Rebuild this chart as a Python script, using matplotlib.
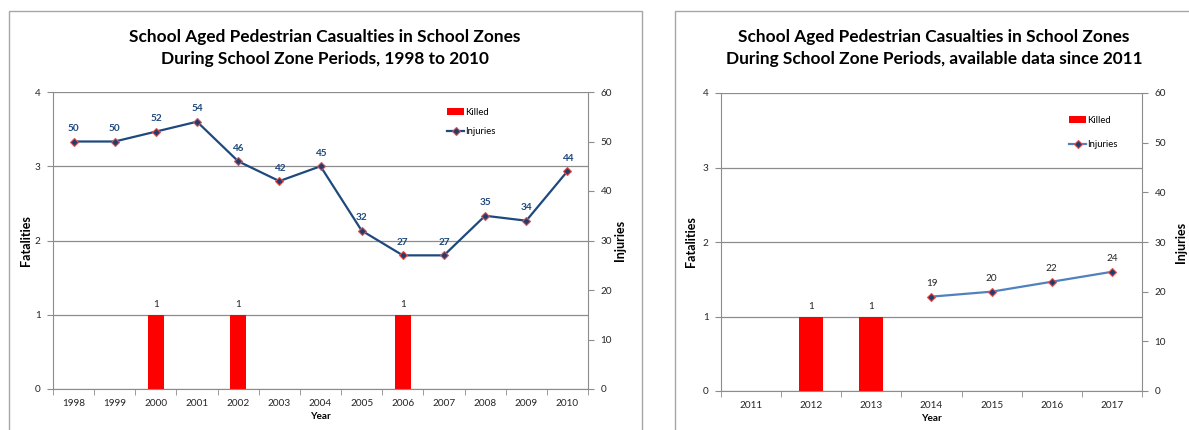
import numpy as np
import matplotlib.pyplot as plt
from matplotlib.patches import Rectangle
from matplotlib.lines import Line2D
from matplotlib.patches import Patch

plt.rcParams['font.family'] = ['Lato', 'DejaVu Sans']

# data
years_a = ['1998', '1999', '2000', '2001', '2002', '2003', '2004',
           '2005', '2006', '2007', '2008', '2009', '2010']
killed_a = [0, 0, 1, 0, 1, 0, 0, 0, 1, 0, 0, 0, 0]
injuries_a = [50, 50, 52, 54, 46, 42, 45, 32, 27, 27, 35, 34, 44]

years_b = ['2011', '2012', '2013', '2014', '2015', '2016', '2017']
killed_b = [0, 1, 1, 0, 0, 0, 0]
injuries_b = [None, None, None, 19, 20, 22, 24]

title_a = 'School Aged Pedestrian Casualties in School Zones\nDuring School Zone Periods, 1998 to 2010'
title_b = 'School Aged Pedestrian Casualties in School Zones\nDuring School Zone Periods, available data since 2011'

W, H = 1189, 430
fig = plt.figure(figsize=(W / 100, H / 100), dpi=100)

GRID = '#8c8c8c'
FS = 7.2


def box(x0, y0, x1, y1):
    return [x0 / W, 1 - y1 / H, (x1 - x0) / W, (y1 - y0) / H]


def panel(rect, frame, years, killed, injuries, title, tcx, line_col, lab_bold, lab_col,
          leg_xy, leg_sp, ylab_x, ylab2_x):
    fig.patches.append(Rectangle((frame[0] / W, 1 - frame[3] / H),
                                 (frame[2] - frame[0]) / W, (frame[3] - frame[1]) / H,
                                 transform=fig.transFigure, fill=False,
                                 edgecolor='#a6a6a6', linewidth=1.0))
    ax = fig.add_axes(box(*rect))
    x = np.arange(len(years))
    kv = [k if k else np.nan for k in killed]
    ax.bar(x, kv, width=0.4, color='#ff0000', zorder=2)
    for xi, k in zip(x, killed):
        if k:
            ax.text(xi, k + 0.08, str(k), ha='center', va='bottom', fontsize=FS, color='#262626')
    ax.set_xlim(-0.5, len(years) - 0.5)
    ax.set_ylim(0, 4)
    ax.set_yticks([0, 1, 2, 3, 4])
    ax.yaxis.grid(True, color=GRID, linewidth=0.9, zorder=0)
    ax.set_axisbelow(True)
    ax.set_xticks(x)
    ax.set_xticklabels(years, fontsize=FS, color='#262626')
    ax.set_xticks(np.arange(-0.5, len(years), 1.0), minor=True)
    ax.tick_params(axis='x', which='major', length=0, pad=7)
    ax.tick_params(axis='x', which='minor', length=4, color=GRID, direction='out')
    ax.tick_params(axis='y', length=4, color=GRID, labelsize=FS, labelcolor='#262626', pad=5)
    for s in ['top', 'right']:
        ax.spines[s].set_visible(False)
    for s in ['left', 'bottom']:
        ax.spines[s].set_color(GRID)
    ax.set_xlabel('Year', fontsize=FS, fontweight='bold', labelpad=3)

    ax2 = ax.twinx()
    ax2.set_ylim(0, 60)
    ax2.set_yticks([0, 10, 20, 30, 40, 50, 60])
    ax2.tick_params(axis='y', length=4, color=GRID, labelsize=FS, labelcolor='#262626', pad=5)
    for s in ['top', 'left', 'bottom']:
        ax2.spines[s].set_visible(False)
    ax2.spines['right'].set_color(GRID)
    iv = [v if v is not None else np.nan for v in injuries]
    ax2.plot(x, iv, color=line_col, linewidth=1.6, marker='D', markersize=4,
             markerfacecolor='#1f3d6e', markeredgecolor='#e05050', markeredgewidth=0.8, zorder=3)
    for xi, v in zip(x, injuries):
        if v is not None:
            ax2.annotate(str(v), (xi, v), xytext=(0, 6), textcoords='offset points',
                         ha='center', va='bottom', fontsize=FS, color=lab_col,
                         fontweight='bold' if lab_bold else 'normal')

    fig.text(ylab_x / W, 1 - (rect[1] + rect[3]) / 2 / H, 'Fatalities', rotation=90,
             ha='center', va='center', fontsize=9, fontweight='bold')
    fig.text(ylab2_x / W, 1 - (rect[1] + rect[3]) / 2 / H, 'Injuries', rotation=90,
             ha='center', va='center', fontsize=9, fontweight='bold')
    fig.text(tcx / W, 1 - 48 / H, title, ha='center', va='center', fontsize=12.4,
             fontweight='bold', linespacing=1.4)

    handles = [Patch(facecolor='#ff0000', edgecolor='none'),
               Line2D([0], [0], color=line_col, linewidth=1.6, marker='D', markersize=4,
                      markerfacecolor='#1f3d6e', markeredgecolor='#e05050', markeredgewidth=0.8)]
    fig.legend(handles, ['Killed', 'Injuries'], loc='upper left',
               bbox_to_anchor=(leg_xy[0] / W, 1 - leg_xy[1] / H), frameon=False,
               fontsize=6.8, handlelength=1.8, handletextpad=0.15, labelspacing=leg_sp,
               borderpad=0, borderaxespad=0)


panel((53, 92, 588, 389), (9, 11, 642, 440), years_a, killed_a, injuries_a, title_a, 325,
      '#1f497d', True, '#1f497d', (447, 108), 1.1, 26, 620)
panel((721, 93, 1142, 391), (675, 11, 1200, 440), years_b, killed_b, injuries_b, title_b, 934,
      '#4f81bd', False, '#262626', (1069, 116), 1.6, 691, 1181)

fig.savefig('out.png', dpi=100)
